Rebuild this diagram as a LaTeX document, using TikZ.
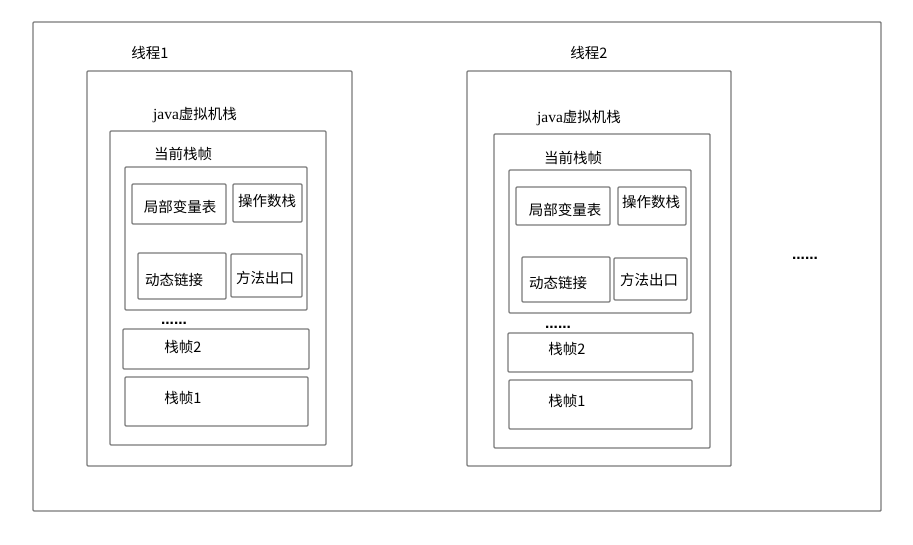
\documentclass[tikz,border=0pt]{standalone}
\usepackage{fontspec}
\setmainfont{Noto Sans CJK SC}
\newfontfamily\latinserif{Liberation Serif}
\newfontfamily\latinsans{Liberation Sans}
\begin{document}
\begin{tikzpicture}[x=1pt,y=-1pt,
  box/.style={draw=boxgray,line width=1.4pt,rounded corners=1pt,inner sep=0pt,minimum width=#1},
  lbl/.style={inner sep=0pt,font=\fontsize{14.5}{16}\selectfont,text=black},
  dotlbl/.style={inner sep=0pt,anchor=base,font=\latinsans\bfseries\fontsize{15.5}{16}\selectfont}]
\definecolor{boxgray}{HTML}{7A7A7A}
\useasboundingbox (0,0) rectangle (913,545);
% outer frame
\node[box=848pt,minimum height=489pt] (outer) at (457,266.5) {};
% ---------- thread 1 ----------
\node[box=265pt,minimum height=395pt] (t1) at (219.5,268.5) {};
\node[box=216pt,minimum height=314pt] (j1) at (218,288) {};
\node[box=182pt,minimum height=143pt] (c1) at (216,238.5) {};
\node[box=94pt,minimum height=40pt] (l1) at (179,204) {};
\node[box=69pt,minimum height=38pt] (o1) at (267.5,203) {};
\node[box=88pt,minimum height=46pt] (d1) at (182,276) {};
\node[box=71pt,minimum height=43pt] (m1) at (266.5,275.5) {};
\node[box=186pt,minimum height=40pt] (fb1) at (216,349) {};
\node[box=183pt,minimum height=49pt] (fa1) at (216.5,401.5) {};
\node[lbl] (t1t) at (150,53) {线程1};
\node[lbl] (j1t) at (195,115) {{\latinserif\fontsize{15.5}{16}\selectfont java}虚拟机栈};
\node[lbl] (c1t) at (183,154) {当前栈帧};
\node[lbl] (l1t) at (180,207) {局部变量表};
\node[lbl] (o1t) at (267,201) {操作数栈};
\node[lbl] (d1t) at (174,280) {动态链接};
\node[lbl] (m1t) at (265,278) {方法出口};
\node[dotlbl] (dots1) at (174,324) {......};
\node[lbl] (fb1t) at (183,347) {栈帧2};
\node[lbl] (fa1t) at (183,398) {栈帧1};
% ---------- thread 2 ----------
\node[box=264pt,minimum height=395pt] (t2) at (599,268.5) {};
\node[box=216pt,minimum height=314pt] (j2) at (602,291) {};
\node[box=182pt,minimum height=143pt] (c2) at (600,241.5) {};
\node[box=94pt,minimum height=38pt] (l2) at (563,206) {};
\node[box=68pt,minimum height=38pt] (o2) at (652,206) {};
\node[box=88pt,minimum height=45pt] (d2) at (566,279.5) {};
\node[box=73pt,minimum height=42pt] (m2) at (650.5,279) {};
\node[box=185pt,minimum height=39pt] (fb2) at (600.5,352.5) {};
\node[box=183pt,minimum height=49pt] (fa2) at (600.5,404.5) {};
\node[lbl] (t2t) at (589,53) {线程2};
\node[lbl] (j2t) at (579,118) {{\latinserif\fontsize{15.5}{16}\selectfont java}虚拟机栈};
\node[lbl] (c2t) at (573,158) {当前栈帧};
\node[lbl] (l2t) at (565,210) {局部变量表};
\node[lbl] (o2t) at (651,202) {操作数栈};
\node[lbl] (d2t) at (558,283) {动态链接};
\node[lbl] (m2t) at (649,280) {方法出口};
\node[dotlbl] (dots2) at (558,328) {......};
\node[lbl] (fb2t) at (567,349) {栈帧2};
\node[lbl] (fa2t) at (567,401) {栈帧1};
% right ellipsis
\node[dotlbl] (dots3) at (805,260) {......};
\end{tikzpicture}
\end{document}
